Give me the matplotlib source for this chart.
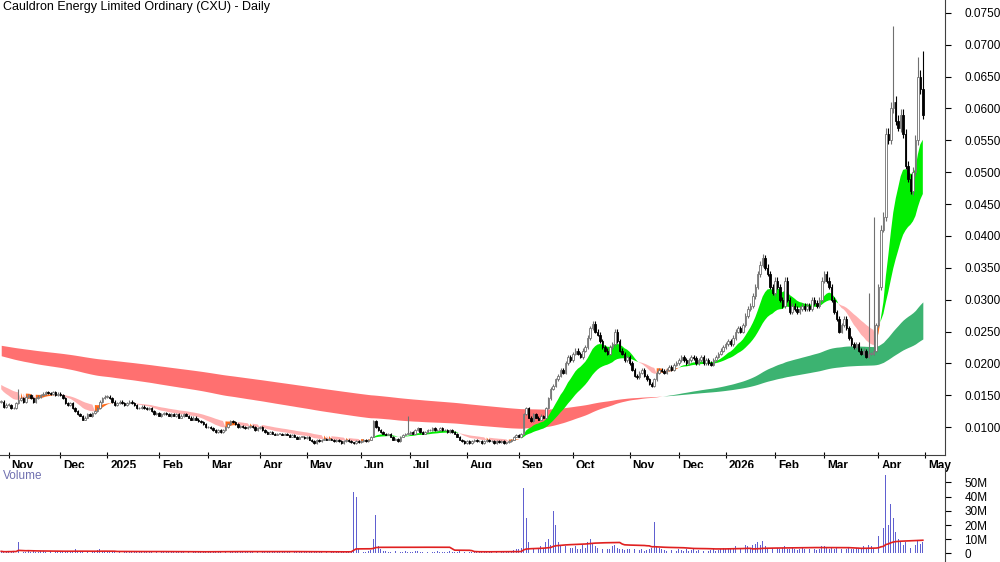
import numpy as np
import matplotlib
matplotlib.use("Agg")
import matplotlib.pyplot as plt

plt.rcParams['font.family'] = ['Liberation Sans', 'DejaVu Sans']

month_labels = ["Nov", "Dec", "2025", "Feb", "Mar", "Apr", "May", "Jun", "Jul", "Aug", "Sep",
                "Oct", "Nov", "Dec", "2026", "Feb", "Mar", "Apr", "May"]

pre = [0.0140, 0.0132, 0.0135]
closes_by_month = [
 [0.0135,0.0130,0.0130,0.0138,0.0142,0.0145,0.0140,0.0148,0.0150,0.0145,0.0140,0.0145,0.0148,0.0150,0.0152,0.0155,0.0153,0.0152,0.0155,0.0150,0.0152],
 [0.0150,0.0145,0.0138,0.0135,0.0138,0.0130,0.0125,0.0120,0.0118,0.0112,0.0115,0.0120,0.0118,0.0122,0.0125,0.0130,0.0140,0.0145,0.0148],
 [0.0148,0.0145,0.0140,0.0135,0.0138,0.0140,0.0138,0.0135,0.0138,0.0140,0.0138,0.0135,0.0130,0.0130,0.0132,0.0130,0.0128,0.0130,0.0125,0.0120,0.0122],
 [0.0118,0.0120,0.0122,0.0120,0.0118,0.0120,0.0118,0.0120,0.0115,0.0118,0.0120,0.0118,0.0115,0.0112,0.0115,0.0112,0.0110,0.0108,0.0105,0.0100],
 [0.0100,0.0098,0.0095,0.0092,0.0095,0.0092,0.0095,0.0100,0.0105,0.0110,0.0108,0.0105,0.0100,0.0102,0.0100,0.0098,0.0100,0.0102,0.0100,0.0095,0.0098],
 [0.0100,0.0095,0.0092,0.0090,0.0092,0.0090,0.0088,0.0090,0.0090,0.0088,0.0090,0.0088,0.0085,0.0088,0.0085,0.0082,0.0085,0.0085,0.0083],
 [0.0085,0.0080,0.0078,0.0075,0.0080,0.0078,0.0080,0.0082,0.0080,0.0082,0.0080,0.0078,0.0080,0.0078,0.0075,0.0078,0.0080,0.0078,0.0076,0.0075,0.0078,0.0076],
 [0.0078,0.0080,0.0078,0.0080,0.0085,0.0110,0.0100,0.0095,0.0092,0.0090,0.0088,0.0090,0.0085,0.0080,0.0082,0.0078,0.0085,0.0088,0.0090,0.0090],
 [0.0092,0.0090,0.0095,0.0098,0.0092,0.0090,0.0092,0.0095,0.0095,0.0098,0.0095,0.0095,0.0098,0.0095,0.0095,0.0092,0.0095,0.0092,0.0090,0.0085,0.0080,0.0078,0.0075],
 [0.0078,0.0075,0.0078,0.0080,0.0078,0.0078,0.0075,0.0078,0.0080,0.0078,0.0078,0.0075,0.0078,0.0076,0.0078,0.0075,0.0076,0.0078,0.0080,0.0085,0.0088],
 [0.0085,0.0090,0.0120,0.0130,0.0115,0.0110,0.0120,0.0115,0.0112,0.0118,0.0115,0.0130,0.0145,0.0160,0.0165,0.0175,0.0180,0.0190,0.0185,0.0200,0.0210,0.0205],
 [0.0215,0.0220,0.0215,0.0210,0.0220,0.0225,0.0240,0.0255,0.0262,0.0250,0.0245,0.0235,0.0225,0.0220,0.0215,0.0225,0.0230,0.0250,0.0235,0.0220,0.0215,0.0205,0.0210],
 [0.0200,0.0190,0.0180,0.0178,0.0185,0.0190,0.0180,0.0175,0.0168,0.0165,0.0175,0.0185,0.0190,0.0188,0.0185,0.0190,0.0195,0.0190,0.0198,0.0200],
 [0.0205,0.0210,0.0205,0.0200,0.0205,0.0210,0.0208,0.0200,0.0205,0.0210,0.0200,0.0205,0.0200,0.0198,0.0205,0.0210,0.0215,0.0220,0.0225],
 [0.0230,0.0235,0.0230,0.0240,0.0250,0.0255,0.0250,0.0260,0.0275,0.0285,0.0290,0.0305,0.0320,0.0340,0.0355,0.0365,0.0350,0.0340,0.0320,0.0310],
 [0.0330,0.0320,0.0300,0.0290,0.0330,0.0300,0.0280,0.0290,0.0285,0.0280,0.0285,0.0290,0.0285,0.0290,0.0285,0.0300,0.0295,0.0290,0.0300,0.0330],
 [0.0340,0.0330,0.0320,0.0300,0.0280,0.0270,0.0250,0.0260,0.0270,0.0255,0.0240,0.0230,0.0225,0.0230,0.0220,0.0215,0.0220,0.0210,0.0215,0.0215,0.0220,0.0260],
 [0.0320,0.0410,0.0430,0.0560,0.0550,0.0600,0.0610,0.0580,0.0570,0.0590,0.0560,0.0510,0.0490,0.0470,0.0500,0.0550,0.0650,0.0630,0.0590],
]
spike_highs = {7: 0.0160, 165: 0.0118, 314: 0.0240, 257: 0.0150,
               352: 0.0310, 354: 0.0430, 362: 0.0730, 372: 0.0680, 374: 0.0690}
wick = 0.0004

vol_by_month = [
 [1.5,1.2,2.0,1.0,8.0,1.5,1.2,1.0,2.5,1.0,1.5,1.2,1.0,1.5,2.0,1.0,1.2,1.5,1.0,1.2,1.0],
 [1.5,1.2,1.0,2.0,1.5,1.0,3.0,2.0,1.5,1.0,1.2,1.0,1.5,1.0,1.2,2.5,3.0,1.5,1.0],
 [1.2,1.0,1.5,1.0,1.2,1.0,1.5,1.2,1.0,1.0,1.2,1.5,1.0,1.2,1.0,1.0,1.5,1.0,1.2,1.0,1.5],
 [1.0,1.2,1.0,1.5,1.0,1.2,1.0,1.0,1.5,1.0,1.2,1.0,1.5,1.0,1.2,1.0,1.0,1.5,2.0,1.5],
 [1.5,1.2,1.0,2.0,1.5,1.0,1.2,2.0,3.0,2.0,1.5,1.0,1.2,1.0,1.5,1.0,1.2,1.0,1.5,1.0,1.2],
 [1.0,1.2,1.0,1.5,1.0,1.2,1.0,1.0,1.5,1.0,1.2,1.0,1.5,1.0,1.2,1.0,1.0,1.5,1.0],
 [1.0,1.2,1.0,1.5,1.0,1.2,1.0,1.0,1.5,1.0,1.2,1.0,1.5,1.0,1.2,1.0,1.0,1.5,2.0,43.0,40.0,3.0],
 [1.5,1.2,1.0,2.0,2.5,10.0,27.0,5.0,3.0,2.0,1.5,1.0,1.2,1.0,1.5,1.0,1.2,1.0,1.5,1.0],
 [1.2,1.0,1.5,2.0,1.2,1.0,1.5,1.2,1.0,1.0,1.2,1.5,1.0,1.2,1.0,1.0,1.5,1.0,1.2,1.0,1.5,1.0,1.2],
 [1.0,1.2,1.0,1.5,1.0,1.2,1.0,1.0,1.5,1.0,1.2,1.0,1.5,1.0,1.2,1.0,1.0,1.5,2.0,2.5,3.0],
 [3.0,4.0,46.0,25.0,8.0,5.0,4.0,3.0,3.0,5.0,4.0,8.0,10.0,6.0,30.0,20.0,8.0,6.0,10.0,5.0,6.0,4.0],
 [4.0,5.0,3.0,3.0,6.0,4.0,8.0,10.0,7.0,5.0,4.0,3.0,3.0,4.0,3.0,3.0,5.0,6.0,4.0,3.0,3.0,2.5,3.0],
 [3.0,2.5,3.0,2.0,2.5,3.0,2.0,2.5,3.0,4.0,22.0,5.0,4.0,3.0,2.5,2.0,3.0,2.5,3.0,2.0],
 [3.0,2.5,2.0,3.0,2.0,2.5,3.0,2.0,2.5,3.0,2.0,2.5,2.0,2.5,3.0,2.0,2.5,3.0,4.0],
 [3.0,4.0,3.0,4.0,5.0,4.0,3.0,5.0,6.0,5.0,4.0,6.0,7.0,8.0,6.0,9.0,5.0,4.0,3.0,4.0],
 [5.0,4.0,3.0,4.0,5.0,3.0,3.0,4.0,3.0,2.5,3.0,4.0,3.0,2.5,3.0,4.0,3.0,2.5,3.0,5.0],
 [5.0,4.0,3.0,4.0,3.0,4.0,5.0,3.0,4.0,3.0,4.0,3.0,3.0,4.0,3.0,4.0,5.0,4.0,6.0,5.0,4.0,8.0],
 [12.0,30.0,18.0,55.0,20.0,35.0,25.0,15.0,10.0,8.0,6.0,8.0,5.0,4.0,5.0,6.0,9.0,7.0,8.0],
]
pre_vol = [1.5, 1.0, 1.2]

ema_init = {12: 0.0163, 30: 0.0168, 150: 0.0213, 300: 0.0229}

closes = np.array(pre + [c for m in closes_by_month for c in m])
vols = np.array(pre_vol + [v for m in vol_by_month for v in m])
n = len(closes)
idx = np.arange(n)
opens = np.concatenate([[closes[0]], closes[:-1]])
highs = np.maximum(opens, closes) + wick * closes / 0.015 * 0.6
lows = np.minimum(opens, closes) - wick * closes / 0.015 * 0.4
for k, h in spike_highs.items():
    if k < n:
        highs[k] = max(highs[k], h)

def ema(vals, p, init):
    a = 2.0 / (p + 1)
    out = np.empty(len(vals)); e = init
    for i, v in enumerate(vals):
        e = e + a * (v - e); out[i] = e
    return out

ef = ema(closes, 12, ema_init[12]); es = ema(closes, 30, ema_init[30])
el1 = ema(closes, 150, ema_init[150]); el2 = ema(closes, 300, ema_init[300])

month_starts = [len(pre)]
for m in closes_by_month:
    month_starts.append(month_starts[-1] + len(m))

fig = plt.figure(figsize=(10, 5.62), dpi=100)
ax = fig.add_axes([0.0, 0.19, 0.945, 0.81])
axv = fig.add_axes([0.0, 0.0, 0.945, 0.167])

up_l = el1 >= el2
ax.fill_between(idx, el1, el2, where=~up_l, color='#ff7070', lw=0, interpolate=True)
ax.fill_between(idx, el1, el2, where=up_l, color='#3cb371', lw=0, interpolate=True)
up_s = ef >= es
rising = np.concatenate([[False], np.diff(ef) > 0])
ax.fill_between(idx, ef, es, where=up_s, color='#00ee00', lw=0, interpolate=True)
ax.fill_between(idx, ef, es, where=(~up_s) & ~rising, color='#ffb0b0', lw=0, interpolate=True)
ax.fill_between(idx, ef, es, where=(~up_s) & rising, color='#ff6a1a', lw=0, interpolate=True)

w = 0.6
for i in range(n):
    o, c = opens[i], closes[i]
    ax.vlines(i, lows[i], highs[i], color='#707070' if c >= o else 'black', lw=0.8, zorder=3)
    body = max(abs(c - o), 0.00008)
    if c >= o:
        ax.add_patch(plt.Rectangle((i - w/2, min(o, c)), w, body, facecolor='white',
                                   edgecolor='#707070', lw=0.6, zorder=4))
    else:
        ax.add_patch(plt.Rectangle((i - w/2, min(o, c)), w, body, facecolor='black',
                                   edgecolor='black', lw=0.6, zorder=4))

xl = (-0.5, n + 8)
for a in (ax, axv):
    a.set_xlim(*xl)
    a.yaxis.tick_right()
    for s in ('top', 'left'):
        a.spines[s].set_visible(False)
    a.spines['right'].set_color('#404040')
    a.spines['bottom'].set_color('#404040')

ax.set_ylim(0.0056, 0.0770)
yt = np.arange(0.0100, 0.0751, 0.0050)
ax.set_yticks(yt)
ax.set_yticklabels([f"{v:.4f}" for v in yt], fontsize=8.5)
ax.tick_params(axis='y', length=4, pad=10, colors='black')
ax.set_xticks(month_starts[:len(month_labels)])
ax.set_xticklabels([])
ax.tick_params(axis='x', length=5, direction='inout')
for s, lab in zip(month_starts, month_labels):
    ax.text(s + 1.2, 0.0049, lab, fontsize=8.5, fontweight='bold', ha='left', va='top', clip_on=False)
ax.text(0.003, 0.998, "Cauldron Energy Limited Ordinary (CXU) - Daily", transform=ax.transAxes,
        fontsize=9, ha='left', va='top')

axv.bar(idx, vols, width=0.35, color='#6060d0')
vma = np.array([vols[max(0, i-39):i+1].mean() for i in range(n)])
axv.plot(idx, vma, color='#e02020', lw=1.2)
axv.set_ylim(-6, 60)
axv.set_yticks([0, 10, 20, 30, 40, 50])
axv.set_yticklabels(["0", "10M", "20M", "30M", "40M", "50M"], fontsize=8.5)
axv.tick_params(axis='y', length=4, pad=10)
axv.set_xticks([])
axv.spines['bottom'].set_visible(False)
axv.text(0.003, 0.98, "Volume", transform=axv.transAxes, fontsize=8.5, color='#7070b0',
         ha='left', va='top')

fig.savefig("out.png", dpi=100)
